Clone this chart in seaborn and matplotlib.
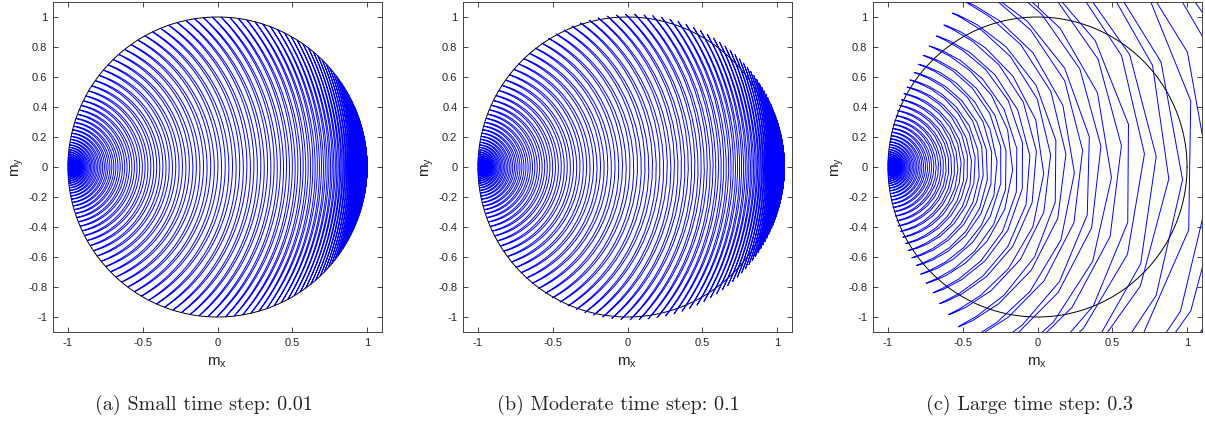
import numpy as np
import pandas as pd
import matplotlib
matplotlib.use("Agg")
import matplotlib.pyplot as plt
import seaborn as sns

# Macrospin LLG: applied field along x, thin-film demagnetising field along z
h_applied = 1.0
k_demag = 1.0
alpha = 0.008
m_start = [-1.0, 0.005, 0.0]
t_end = 1700.0

time_steps = [0.01, 0.1, 0.3]
panel_titles = ["(a) Small time step: 0.01",
                "(b) Moderate time step: 0.1",
                "(c) Large time step: 0.3"]
x_ticks = [-1, -0.5, 0, 0.5, 1]
x_ticklabels = ["-1", "-0.5", "0", "0.5", "1"]
y_ticks = [-1, -0.8, -0.6, -0.4, -0.2, 0, 0.2, 0.4, 0.6, 0.8, 1]
y_ticklabels = ["-1", "-0.8", "-0.6", "-0.4", "-0.2", "0", "0.2", "0.4", "0.6", "0.8", "1"]


def llg_rhs(x, y, z):
    hx, hy, hz = h_applied, 0.0, -k_demag * z
    c1 = y * hz - z * hy
    c2 = z * hx - x * hz
    c3 = x * hy - y * hx
    d1 = y * c3 - z * c2
    d2 = z * c1 - x * c3
    d3 = x * c2 - y * c1
    return (-c1 - alpha * d1, -c2 - alpha * d2, -c3 - alpha * d3)


def integrate_heun(dt):
    n = int(round(t_end / dt))
    v = np.array(m_start, float)
    v /= np.linalg.norm(v)
    x, y, z = v
    xs = np.empty(n + 1)
    ys = np.empty(n + 1)
    xs[0], ys[0] = x, y
    for i in range(n):
        a1, a2, a3 = llg_rhs(x, y, z)
        b1, b2, b3 = llg_rhs(x + dt * a1, y + dt * a2, z + dt * a3)
        x += 0.5 * dt * (a1 + b1)
        y += 0.5 * dt * (a2 + b2)
        z += 0.5 * dt * (a3 + b3)
        xs[i + 1], ys[i + 1] = x, y
        if x * x + y * y + z * z > 25.0:
            xs, ys = xs[:i + 2], ys[:i + 2]
            break
    return pd.DataFrame({"m_x": xs, "m_y": ys})


sns.set_theme(style="ticks")
plt.rcParams.update({
    "font.family": ["Liberation Sans", "DejaVu Sans"],
    "xtick.direction": "in",
    "ytick.direction": "in",
    "xtick.top": True,
    "ytick.right": True,
    "axes.edgecolor": "#262626",
    "xtick.color": "#262626",
    "ytick.color": "#262626",
    "axes.linewidth": 0.6,
    "xtick.major.width": 0.6,
    "ytick.major.width": 0.6,
    "xtick.major.size": 3.5,
    "ytick.major.size": 3.5,
})

fig = plt.figure(figsize=(12.05, 4.21), dpi=100)
lefts = [53 / 1205, 463 / 1205, 873 / 1205]
caption_x = [204 / 1205, 618 / 1205, 1030 / 1205]

theta = np.linspace(0, 2 * np.pi, 721)
unit_circle = pd.DataFrame({"m_x": np.cos(theta), "m_y": np.sin(theta)})

for left, dt, title, cx in zip(lefts, time_steps, panel_titles, caption_x):
    ax = fig.add_axes([left, 89 / 421, 329 / 1205, 330 / 421])
    traj = integrate_heun(dt)
    sns.lineplot(data=unit_circle, x="m_x", y="m_y", sort=False, estimator=None,
                 color="black", lw=0.7, ax=ax, zorder=1)
    sns.lineplot(data=traj, x="m_x", y="m_y", sort=False, estimator=None,
                 color=(0, 0, 1), lw=0.7, ax=ax, zorder=2)
    ax.set_xlim(-1.1, 1.1)
    ax.set_ylim(-1.1, 1.1)
    ax.set_xticks(x_ticks)
    ax.set_xticklabels(x_ticklabels, fontsize=8, color="#262626")
    ax.set_yticks(y_ticks)
    ax.set_yticklabels(y_ticklabels, fontsize=8, color="#262626")
    ax.tick_params(pad=4)
    for s in ax.spines.values():
        s.set_visible(True)
    ax.set_xlabel(r"$\mathregular{m_x}$", fontsize=11, color="#262626")
    ax.set_ylabel(r"$\mathregular{m_y}$", fontsize=11, color="#262626")
    ax.xaxis.set_label_coords(0.5, -0.07)
    ax.yaxis.set_label_coords(-0.082, 0.5)
    fig.text(cx, 1 - 405 / 421, title, ha="center", va="center",
             fontsize=14.5, family="cmr10")

fig.savefig("out.png", dpi=100)
